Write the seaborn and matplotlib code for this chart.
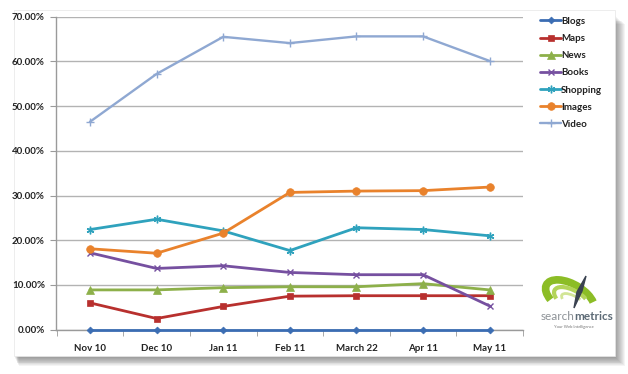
import numpy as np
import pandas as pd
import matplotlib
matplotlib.use("Agg")
import matplotlib.pyplot as plt
import seaborn as sns
from matplotlib.patches import Rectangle, Arc, Polygon
from matplotlib.ticker import PercentFormatter

# 数据
months = ["Nov 10", "Dec 10", "Jan 11", "Feb 11", "March 22", "Apr 11", "May 11"]
blogs = [0.0, 0.0, 0.0, 0.0, 0.0, 0.0, 0.0]
maps = [6.0, 2.5, 5.2, 7.5, 7.6, 7.6, 7.6]
news = [8.9, 8.9, 9.4, 9.6, 9.6, 10.3, 8.9]
books = [17.2, 13.7, 14.3, 12.8, 12.3, 12.3, 5.3]
shopping = [22.4, 24.7, 22.1, 17.7, 22.8, 22.4, 21.0]
images = [18.1, 17.1, 21.6, 30.7, 31.0, 31.1, 31.9]
video = [46.5, 57.2, 65.5, 64.1, 65.6, 65.6, 60.1]

series_names = ["Blogs", "Maps", "News", "Books", "Shopping", "Images", "Video"]
series_values = [blogs, maps, news, books, shopping, images, video]
colors = ["#3b6db3", "#b8302e", "#8db04a", "#7650a0", "#2fa2bd", "#e9822c", "#8fa8d2"]
markers = ["D", "s", "^", "x", (6, 2, 0), "o", "+"]
msizes = [3.5, 5, 5.5, 5, 5.5, 5.5, 5.5]

df = pd.DataFrame({
    "pos": np.tile(np.arange(len(months)), len(series_names)),
    "value": np.concatenate(series_values),
    "series": np.repeat(series_names, len(months)),
})

sns.set_style("white")
plt.rcParams["font.family"] = ["Lato", "DejaVu Sans"]

fig = plt.figure(figsize=(6.28, 3.74), dpi=100)
fig.patch.set_facecolor("white")

W, H = 628.0, 374.0
# 卡片阴影
for i in range(10):
    fig.patches.append(Rectangle(((14 + 1 + i * 0.4) / W, 1 - (356 + 2 + i * 0.9) / H),
                                 (601 + i * 0.6) / W, (346 - 4) / H,
                                 transform=fig.transFigure, color="black",
                                 alpha=0.045, lw=0, zorder=-20))
fig.patches.append(Rectangle((14 / W, 1 - 356 / H), 601 / W, 346 / H,
                             transform=fig.transFigure, facecolor="white",
                             edgecolor="#e6e6e6", lw=0.5, zorder=-10))

ax = fig.add_axes([56 / W, 1 - 329.7 / H, (523 - 56) / W, (329.7 - 16.7) / H])
ax.set_facecolor("none")

for name, c, m, ms in zip(series_names, colors, markers, msizes):
    sub = df[df["series"] == name]
    lw = 1.7 if name == "Video" else 2.0
    mew = 1.0 if m in ("x", "+") or isinstance(m, tuple) else 0.5
    sns.lineplot(data=sub, x="pos", y="value", ax=ax, color=c, marker=m,
                 markersize=ms, markeredgecolor=c, markeredgewidth=mew,
                 linewidth=lw, label=name, sort=False, clip_on=False, zorder=3)

ax.set_xlim(-0.51, 6.31)
ax.set_ylim(0, 70)
ax.set_yticks(np.arange(0, 71, 10))
ax.yaxis.set_major_formatter(PercentFormatter(xmax=100, decimals=2))
ax.set_xticks(np.arange(len(months)))
ax.set_xticklabels(months)
ax.set_xticks(np.arange(-0.5, 6.6, 1), minor=True)
ax.grid(axis="y", color="#b3b3b3", linewidth=1.0)
ax.set_axisbelow(True)
ax.set_xlabel("")
ax.set_ylabel("")
for s in ["top", "right"]:
    ax.spines[s].set_visible(False)
for s in ["left", "bottom"]:
    ax.spines[s].set_color("#9a9a9a")
    ax.spines[s].set_linewidth(1.0)
ax.tick_params(axis="y", which="major", left=True, length=4, color="#9a9a9a",
               labelsize=7, pad=4)
ax.tick_params(axis="x", which="major", bottom=False, labelsize=7, pad=7)
ax.tick_params(axis="x", which="minor", bottom=True, length=4, color="#9a9a9a")
for lbl in ax.get_xticklabels() + ax.get_yticklabels():
    lbl.set_fontweight("bold")
    lbl.set_color("#222222")

# 图例
handles, labels = ax.get_legend_handles_labels()
ax.get_legend().remove()
leg = fig.legend(handles, labels, loc="upper left",
                 bbox_to_anchor=(536 / W, 1 - 13 / H), frameon=False,
                 fontsize=7, handlelength=2.2, handletextpad=0.0,
                 labelspacing=0.84, borderaxespad=0)
for t in leg.get_texts():
    t.set_fontweight("bold")
    t.set_color("#222222")

# searchmetrics 标志
lax = fig.add_axes([538 / W, 1 - 312 / H, 60 / W, 46 / H])
lax.set_xlim(0, 60)
lax.set_ylim(0, 46)
lax.set_aspect("equal")
lax.axis("off")
lax.add_patch(Arc((32, 14), 54, 28, angle=-30, theta1=20, theta2=215,
                  color="#8cbd26", lw=5.5))
lax.add_patch(Arc((34, 12), 40, 19, angle=-30, theta1=35, theta2=205,
                  color="#b3d45a", lw=3))
lax.add_patch(Arc((36, 10), 28, 11, angle=-30, theta1=50, theta2=195,
                  color="#d2e596", lw=2))
lax.add_patch(Polygon([[48, 36], [44, 21], [36, 4], [39, 20]], closed=True,
                      color="#3a4250", zorder=5))
fig.text(575 / W, 1 - 316 / H, "search", ha="right", va="center",
         fontsize=8.5, color="#8d9297", family=["Lato", "DejaVu Sans"])
fig.text(574 / W, 1 - 316 / H, "metrics", ha="left", va="center",
         fontsize=8.5, color="#5d6b76", fontweight="bold",
         family=["Lato", "DejaVu Sans"])
fig.text(574 / W, 1 - 327 / H, "Your Web Intelligence", ha="center",
         va="center", fontsize=3, color="#777777")

fig.savefig("out.png", dpi=100)
